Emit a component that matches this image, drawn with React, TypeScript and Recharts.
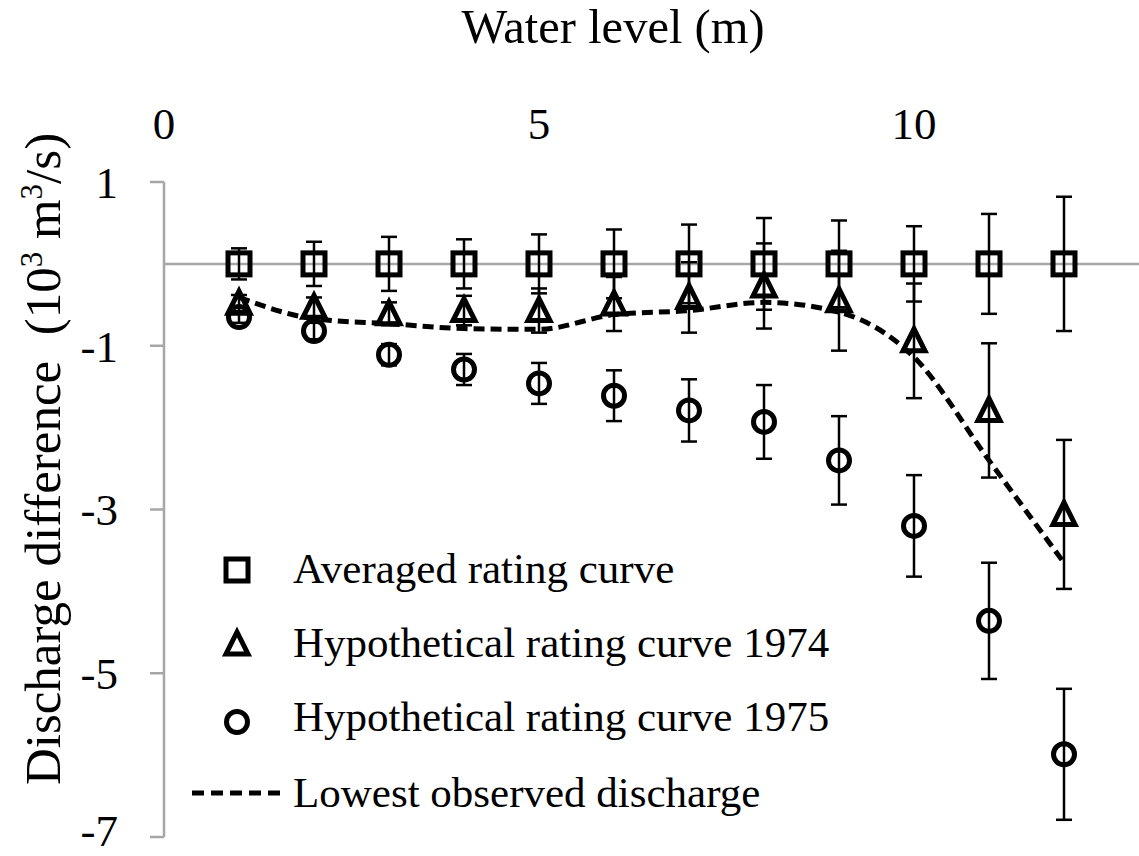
import React from "react";
import { ScatterChart, Scatter, XAxis, YAxis, ErrorBar, ReferenceLine, Legend } from "recharts";

// ── data ────────────────────────────────────────────────────────────────────
const waterLevels = [1, 2, 3, 4, 5, 6, 7, 8, 9, 10, 11, 12];

const averagedValues = [0, 0, 0, 0, 0, 0, 0, 0, 0, 0, 0, 0];
const averagedErr = [0.19, 0.27, 0.33, 0.3, 0.36, 0.42, 0.48, 0.56, 0.53, 0.46, 0.61, 0.82];

const hyp1974Values = [-0.48, -0.53, -0.61, -0.57, -0.57, -0.49, -0.41, -0.27, -0.45, -0.94, -1.79, -3.06];
const hyp1974Err = [0.1, 0.12, 0.14, 0.18, 0.27, 0.33, 0.43, 0.52, 0.61, 0.7, 0.82, 0.91];

const hyp1975Values = [-0.65, -0.82, -1.11, -1.29, -1.46, -1.61, -1.79, -1.93, -2.4, -3.2, -4.36, -5.99];
const hyp1975Err = [0.07, 0.1, 0.13, 0.19, 0.25, 0.31, 0.38, 0.45, 0.54, 0.62, 0.71, 0.8];

const lowestObserved = [-0.41, -0.67, -0.73, -0.79, -0.8, -0.62, -0.57, -0.47, -0.59, -1.14, -2.4, -3.65];

const xTicks = [0, 5, 10];
const yTicks = [1, -1, -3, -5, -7];

const seriesNames = [
  "Averaged rating curve",
  "Hypothetical rating curve 1974",
  "Hypothetical rating curve 1975",
  "Lowest observed discharge",
];

// ── style ──────────────────────────────────────────────────────────────────
const FONT = "'Liberation Serif', 'Times New Roman', serif";
const GREY = "#A6A6A6";
const MARK_W = 5;

const toPoints = (values: number[], errs?: number[]) =>
  waterLevels.map((x, i) => ({ x, y: values[i], err: errs ? errs[i] : 0 }));

const SquareMark = ({ cx, cy }: any) => (
  <rect x={cx - 11} y={cy - 11} width={22} height={22} fill="none" stroke="#000" strokeWidth={MARK_W} />
);
const TriangleMark = ({ cx, cy }: any) => (
  <polygon
    points={`${cx},${cy - 12} ${cx - 11},${cy + 10} ${cx + 11},${cy + 10}`}
    fill="none"
    stroke="#000"
    strokeWidth={MARK_W}
    strokeLinejoin="miter"
  />
);
const CircleMark = ({ cx, cy }: any) => (
  <circle cx={cx} cy={cy} r={10.5} fill="none" stroke="#000" strokeWidth={MARK_W} />
);
const NoMark = () => <g />;

const XTitle = () => (
  <text x={613} y={43} textAnchor="middle" fontFamily={FONT} fontSize={48.5} fill="#000">
    Water level (m)
  </text>
);

const YTitle = () => (
  <text
    x={60}
    y={459}
    transform="rotate(-90 60 459)"
    textAnchor="middle"
    fontFamily={FONT}
    fontSize={51}
    fill="#000"
    style={{ whiteSpace: "pre" }}
  >
    {"Discharge difference  (10"}
    <tspan dy={-18} fontSize={31}>3</tspan>
    <tspan dy={18}>{" m"}</tspan>
    <tspan dy={-18} fontSize={31}>3</tspan>
    <tspan dy={18}>/s)</tspan>
  </text>
);

const LegendBox = () => {
  const rows = [0, 74, 148, 222];
  return (
    <svg width={700} height={300} style={{ display: "block" }}>
      <rect x={46} y={29} width={22} height={22} fill="none" stroke="#000" strokeWidth={MARK_W} />
      <polygon points={`57,${rows[1] + 28} 46,${rows[1] + 50} 68,${rows[1] + 50}`} fill="none" stroke="#000" strokeWidth={MARK_W} />
      <circle cx={57} cy={rows[2] + 44} r={10.5} fill="none" stroke="#000" strokeWidth={MARK_W} />
      <line x1={12} x2={105} y1={rows[3] + 41} y2={rows[3] + 41} stroke="#000" strokeWidth={5} strokeDasharray="12 7" />
      {seriesNames.map((name, i) => (
        <text key={name} x={113} y={rows[i] + 53 + (i === 3 ? 2 : 0)} fontFamily={FONT} fontSize={43} fill="#000">
          {name}
        </text>
      ))}
    </svg>
  );
};

export default function App() {
  return (
    <div style={{ position: "absolute", left: 0, top: 0, width: 1139, height: 856, background: "#fff" }}>
      <ScatterChart width={1139} height={856} margin={{ top: 0, right: 0, bottom: 19, left: 0 }}>
        <XAxis
          type="number"
          dataKey="x"
          orientation="top"
          domain={[0, 13]}
          ticks={xTicks}
          height={182}
          axisLine={false}
          tickLine={false}
          tickSize={0}
          tickMargin={43}
          tick={{ fontFamily: FONT, fontSize: 45, fill: "#000" }}
          label={<XTitle />}
        />
        <YAxis
          type="number"
          dataKey="y"
          domain={[-7, 1]}
          ticks={yTicks}
          width={164}
          tickSize={14}
          tickMargin={32}
          axisLine={{ stroke: GREY, strokeWidth: 2.5 }}
          tickLine={{ stroke: GREY, strokeWidth: 2.5 }}
          tick={{ fontFamily: FONT, fontSize: 45, fill: "#000" }}
          label={<YTitle />}
        />
        <ReferenceLine y={0} stroke={GREY} strokeWidth={2.5} />
        <Scatter name={seriesNames[0]} data={toPoints(averagedValues, averagedErr)} shape={SquareMark} isAnimationActive={false}>
          <ErrorBar dataKey="err" direction="y" width={8} stroke="#000" strokeWidth={2.5} />
        </Scatter>
        <Scatter name={seriesNames[1]} data={toPoints(hyp1974Values, hyp1974Err)} shape={TriangleMark} isAnimationActive={false}>
          <ErrorBar dataKey="err" direction="y" width={8} stroke="#000" strokeWidth={2.5} />
        </Scatter>
        <Scatter name={seriesNames[2]} data={toPoints(hyp1975Values, hyp1975Err)} shape={CircleMark} isAnimationActive={false}>
          <ErrorBar dataKey="err" direction="y" width={8} stroke="#000" strokeWidth={2.5} />
        </Scatter>
        <Scatter
          name={seriesNames[3]}
          data={toPoints(lowestObserved)}
          shape={NoMark}
          line={{ stroke: "#000", strokeWidth: 5, strokeDasharray: "11 6" }}
          lineJointType="monotoneX"
          isAnimationActive={false}
        />
        <Legend
          layout="vertical"
          align="center"
          verticalAlign="middle"
          content={<LegendBox />}
          wrapperStyle={{ left: 180, top: 530, width: 700, height: 300 }}
        />
      </ScatterChart>
    </div>
  );
}
